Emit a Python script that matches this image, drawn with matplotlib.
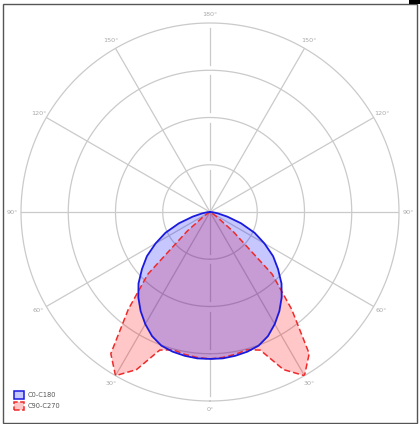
import numpy as np
import matplotlib
matplotlib.use("Agg")
import matplotlib.pyplot as plt
from matplotlib.patches import Patch, Rectangle

# gamma angles (deg) from nadir, one half of each plane
GAMMA = [0, 5, 10, 15, 20, 25, 30, 35, 40, 45, 50, 55, 60, 65, 70, 75, 80, 85, 90]
# C0-C180 plane (cd/klm)
C0_C180 = [311, 311, 309, 306, 301, 290, 274, 256, 236, 214, 188, 163, 133, 104, 70, 38, 17, 6, 0]
# C90-C270 plane
C90_C270 = [311, 309, 306, 302, 311, 368, 400, 366, 269, 186, 63, 17, 4, 0, 0, 0, 0, 0, 0]

RINGS = [100, 200, 300, 400]
ANGLE_LABELS = ["0°", "30°", "60°", "90°", "120°", "150°", "180°"]

GRID = "#cacaca"
LABEL = "#a8a8a8"


def full_curve(gamma, values):
    """Mirror one half plane to get the closed curve (left side = C180/C270)."""
    g = np.array(gamma, dtype=float)
    v = np.array(values, dtype=float)
    theta = np.concatenate([-g[::-1], g[1:]])
    r = np.concatenate([v[::-1], v[1:]])
    return np.deg2rad(theta), r


fig = plt.figure(figsize=(4.2, 4.24), dpi=100)
ax = fig.add_axes([21 / 420, 23 / 424, 378 / 420, 378 / 424], projection="polar")
ax.set_theta_zero_location("S")
ax.set_theta_direction(1)
ax.set_ylim(0, 400)
ax.grid(False)
ax.set_xticks([])
ax.set_yticks([])
ax.spines["polar"].set_visible(False)

# rings
t = np.linspace(0, 2 * np.pi, 400)
for rr in RINGS:
    ax.plot(t, np.full_like(t, rr), color=GRID, lw=0.9, zorder=1, clip_on=False)

# spokes every 30 deg; the vertical one is broken at the rings
for a in range(0, 360, 30):
    th = np.deg2rad(a)
    if a in (0, 180):
        edges = [0] + RINGS
        for lo, hi in zip(edges[:-1], edges[1:]):
            ax.plot([th, th], [lo + (11 if lo else 0), hi - 11], color=GRID, lw=0.9, zorder=1)
    else:
        ax.plot([th, th], [0, RINGS[-1]], color=GRID, lw=0.9, zorder=1)

# angle labels on both sides
for i, lab in enumerate(ANGLE_LABELS):
    a = 30 * i
    for sgn in ((1,) if a in (0, 180) else (1, -1)):
        ax.text(np.deg2rad(sgn * a), 419, lab, ha="center", va="center",
                fontsize=4.6, color=LABEL, clip_on=False)

th_b, r_b = full_curve(GAMMA, C0_C180)
th_r, r_r = full_curve(GAMMA, C90_C270)

ax.fill(th_r, r_r, color="#ff0000", alpha=0.22, lw=0, zorder=2)
ax.fill(th_b, r_b, color="#0000ff", alpha=0.22, lw=0, zorder=3)
ax.plot(np.append(th_r, th_r[0]), np.append(r_r, r_r[0]), color="#ee2a2a",
        lw=1.1, ls=(0, (4, 2)), zorder=4)
ax.plot(np.append(th_b, th_b[0]), np.append(r_b, r_b[0]), color="#1a1adf",
        lw=1.3, zorder=5)

handles = [
    Patch(facecolor=(0.78, 0.78, 1.0), edgecolor="#1a1adf", lw=1.1, label="C0-C180"),
    Patch(facecolor=(1.0, 0.78, 0.78), edgecolor="#ee2a2a", lw=1.1, ls="--", label="C90-C270"),
]
fig.legend(handles=handles, loc="lower left", bbox_to_anchor=(8 / 420, 8 / 424),
           frameon=False, fontsize=4.8, handlelength=1.5, handleheight=1.5,
           handletextpad=0.5, labelspacing=0.45, labelcolor="#555555")

# frame round the picture
fig.patches.append(Rectangle((3 / 420, 1 / 424), 414 / 420, 419 / 424, transform=fig.transFigure,
                             fill=False, edgecolor="#555555", lw=1.0))
fig.patches.append(Rectangle((409 / 420, 420 / 424), 11 / 420, 4 / 424, transform=fig.transFigure,
                             facecolor="black", edgecolor="none"))

fig.savefig("out.png", dpi=100)
